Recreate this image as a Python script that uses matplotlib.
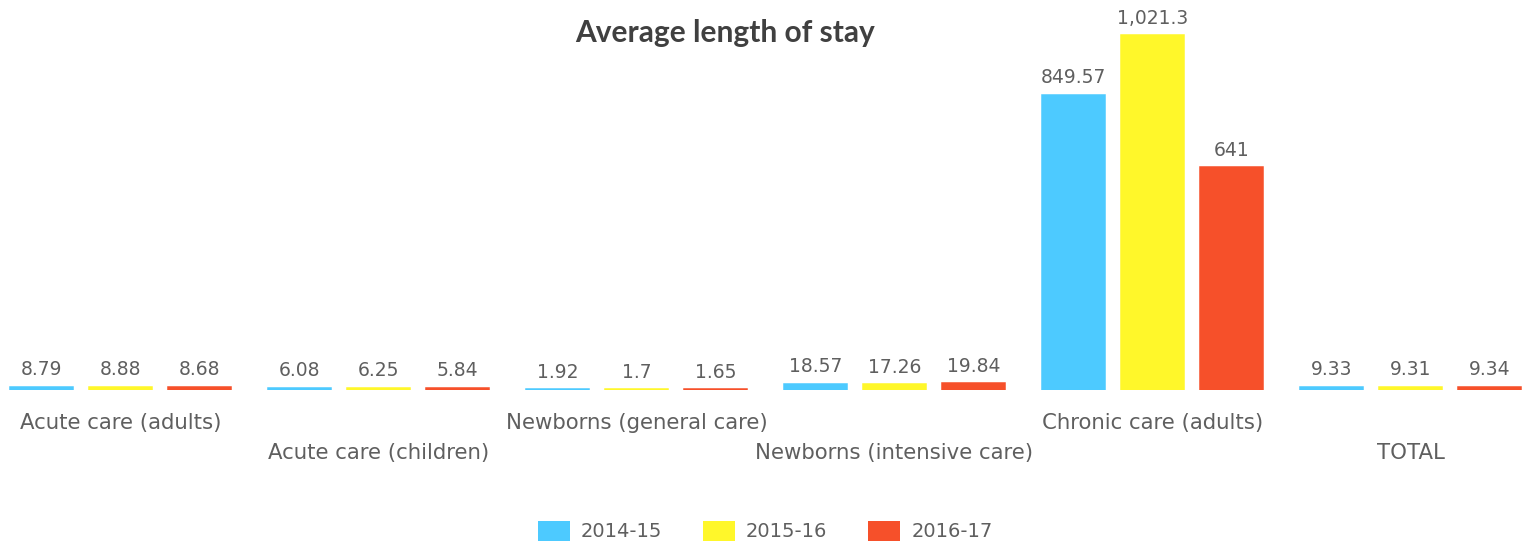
import matplotlib
matplotlib.use("Agg")
import matplotlib.pyplot as plt
from matplotlib.patches import Patch
import numpy as np

categories = ["Acute care (adults)", "Acute care (children)", "Newborns (general care)",
              "Newborns (intensive care)", "Chronic care (adults)", "TOTAL"]
series_names = ["2014-15", "2015-16", "2016-17"]
v2014 = [8.79, 6.08, 1.92, 18.57, 849.57, 9.33]
v2015 = [8.88, 6.25, 1.7, 17.26, 1021.3, 9.31]
v2016 = [8.68, 5.84, 1.65, 19.84, 641, 9.34]
labels2014 = ["8.79", "6.08", "1.92", "18.57", "849.57", "9.33"]
labels2015 = ["8.88", "6.25", "1.7", "17.26", "1,021.3", "9.31"]
labels2016 = ["8.68", "5.84", "1.65", "19.84", "641", "9.34"]
colors = ["#4DCAFF", "#FFF72A", "#F6502A"]

FONT = "DejaVu Sans"
TXT = "#5f5f5f"

W, H = 1522, 547
fig = plt.figure(figsize=(W / 100, H / 100), dpi=100)
base_px = 390
ax = fig.add_axes([0, (H - base_px) / H, 1, base_px / H])
ax.set_axis_off()

x = np.arange(len(categories))
pitch = 258.0
bw = 63 / pitch
off = 79 / pitch
scale = 355 / 1021.3
ax.set_xlim(-120.5 / pitch, (W - 120.5) / pitch)
ax.set_ylim(0, base_px / scale)

for i, (vals, labs) in enumerate(zip([v2014, v2015, v2016], [labels2014, labels2015, labels2016])):
    xs = x + (i - 1) * off
    ax.bar(xs, vals, width=bw, color=colors[i], edgecolor=colors[i], linewidth=1.1,
           label=series_names[i])
    for xi, v, lab in zip(xs, vals, labs):
        ax.annotate(lab, (xi, v), xytext=(0, 11.5), textcoords="offset pixels",
                    ha="center", va="baseline", fontsize=13.5, color=TXT, family=FONT)

for i, c in enumerate(categories):
    ypx = 423 if i % 2 == 0 else 453
    fx = (120.5 + i * pitch) / W
    fig.text(fx, 1 - ypx / H, c, ha="center", va="center", fontsize=15.3, color=TXT, family=FONT)

fig.text(725 / W, 1 - 42 / H, "Average length of stay", ha="center", va="baseline",
         fontsize=21.5, fontweight="bold", color="#404040", family="Lato")

handles = [Patch(facecolor=c, edgecolor="none") for c in colors]
fs = 14
em = fs * 100 / 72
fig.legend(handles, series_names, loc="center", bbox_to_anchor=(765 / W, 1 - 531 / H),
           ncol=3, frameon=False, handlelength=32 / em,
           handleheight=24 / em, columnspacing=2.1, handletextpad=0.57,
           prop={"family": FONT, "size": fs}, labelcolor=TXT, borderpad=0, borderaxespad=0)

fig.savefig("out.png", dpi=100)
